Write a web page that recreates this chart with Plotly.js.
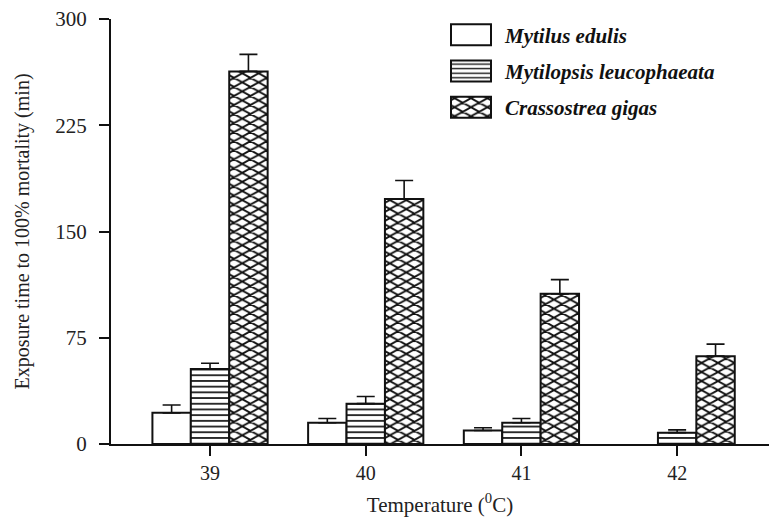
<!DOCTYPE html>
<html>
<head>
<meta charset="utf-8">
<script src="https://cdn.plot.ly/plotly-3.0.1.min.js"></script>
<style>body{margin:0;background:#fff}#chart{width:769px;height:521px}</style>
</head>
<body>
<div id="chart"></div>
<script>
const temperatures = ["39", "40", "41", "42"];
const seriesNames = ["Mytilus edulis", "Mytilopsis leucophaeata", "Crassostrea gigas"];
const mytilusMean = [22, 15, 9.5, null];
const mytilusErr = [5.5, 3, 2, 0];
const mytilopsisMean = [53, 28.5, 15, 8];
const mytilopsisErr = [4, 5, 3, 2];
const crassostreaMean = [263, 173, 106, 62];
const crassostreaErr = [12, 13, 10, 8.5];
const yTicks = [0, 75, 150, 225, 300];

const FONT = "Liberation Serif, Times New Roman, serif";
function barTrace(name, y, err, pattern, grp) {
  return {
    type: "bar", name: name, x: temperatures, y: y, legendgroup: grp,
    marker: {
      color: "#ffffff",
      line: {color: "#111", width: 2},
      pattern: pattern
    },
    error_y: {type: "data", symmetric: false, array: err, arrayminus: err.map(() => 0),
      color: "#111", thickness: 1.6, width: 9}
  };
}
const data = [
  barTrace(seriesNames[0], mytilusMean, mytilusErr, {shape: ""}, "a"),
  barTrace(seriesNames[1], mytilopsisMean, mytilopsisErr, {shape: "-", size: 5.7, solidity: 0.3, fgcolor: "#111", bgcolor: "#fff", fillmode: "replace"}, "b"),
  barTrace(seriesNames[2], crassostreaMean, crassostreaErr, {shape: "x", size: 8, solidity: 0.4, fgcolor: "#111", bgcolor: "#fff", fillmode: "replace"}, "c")
];
const layout = {
  width: 769, height: 521,
  margin: {l: 111, r: 0, t: 19, b: 77},
  paper_bgcolor: "#fff", plot_bgcolor: "#fff",
  font: {family: FONT, size: 20, color: "#222"},
  barmode: "group", bargap: 0.26, bargroupgap: 0,
  showlegend: true,
  legend: {x: 0.4954, y: 1.0106, xanchor: "left", yanchor: "top",
    font: {family: FONT, size: 21, color: "#111", weight: "bold", style: "italic"},
    itemwidth: 58, bgcolor: "rgba(0,0,0,0)", traceorder: "grouped", tracegroupgap: 6},
  xaxis: {
    type: "category", range: [-0.636, 3.59],
    showline: true, linecolor: "#111", linewidth: 2,
    ticks: "outside", ticklen: 10, tickwidth: 2, tickcolor: "#111",
    showgrid: false, zeroline: false,
    tickfont: {size: 20},
    title: {text: "Temperature (<sup>0</sup>C)", font: {size: 21}, standoff: 14}
  },
  yaxis: {
    range: [0, 300], tickvals: yTicks, ticktext: yTicks.map(String),
    showline: true, linecolor: "#111", linewidth: 2,
    ticks: "outside", ticklen: 10, tickwidth: 2, tickcolor: "#111",
    showgrid: false, zeroline: false, ticklabelstandoff: 8,
    tickfont: {size: 21},
    title: {text: "Exposure time to 100% mortality (min)", font: {size: 20}, standoff: 20}
  }
};
Plotly.newPlot("chart", data, layout, {staticPlot: true}).then(function (gd) {
  gd.querySelectorAll(".legend .legendpoints path").forEach(function (p) {
    p.setAttribute("d", "M20,10.5H-20V-10.5H20Z");
  });
  // stretch the cross-hatch lattice horizontally like the original print
  const ids = new Set();
  const traces = gd.querySelectorAll(".barlayer .trace");
  const legendItems = gd.querySelectorAll(".legend .traces");
  const els = [];
  if (traces[2]) traces[2].querySelectorAll("path").forEach(p => els.push(p));
  if (legendItems[2]) legendItems[2].querySelectorAll(".legendpoints path").forEach(p => els.push(p));
  els.forEach(function (p) {
    const f = (p.style.fill || p.getAttribute("fill") || "");
    const m = f.match(/#([^"')]+)/);
    if (m) ids.add(m[1]);
  });
  ids.forEach(function (id) {
    const pat = document.getElementById(id);
    if (pat) pat.setAttribute("patternTransform", "scale(1.45,0.8)");
  });
});
</script>
</body>
</html>
